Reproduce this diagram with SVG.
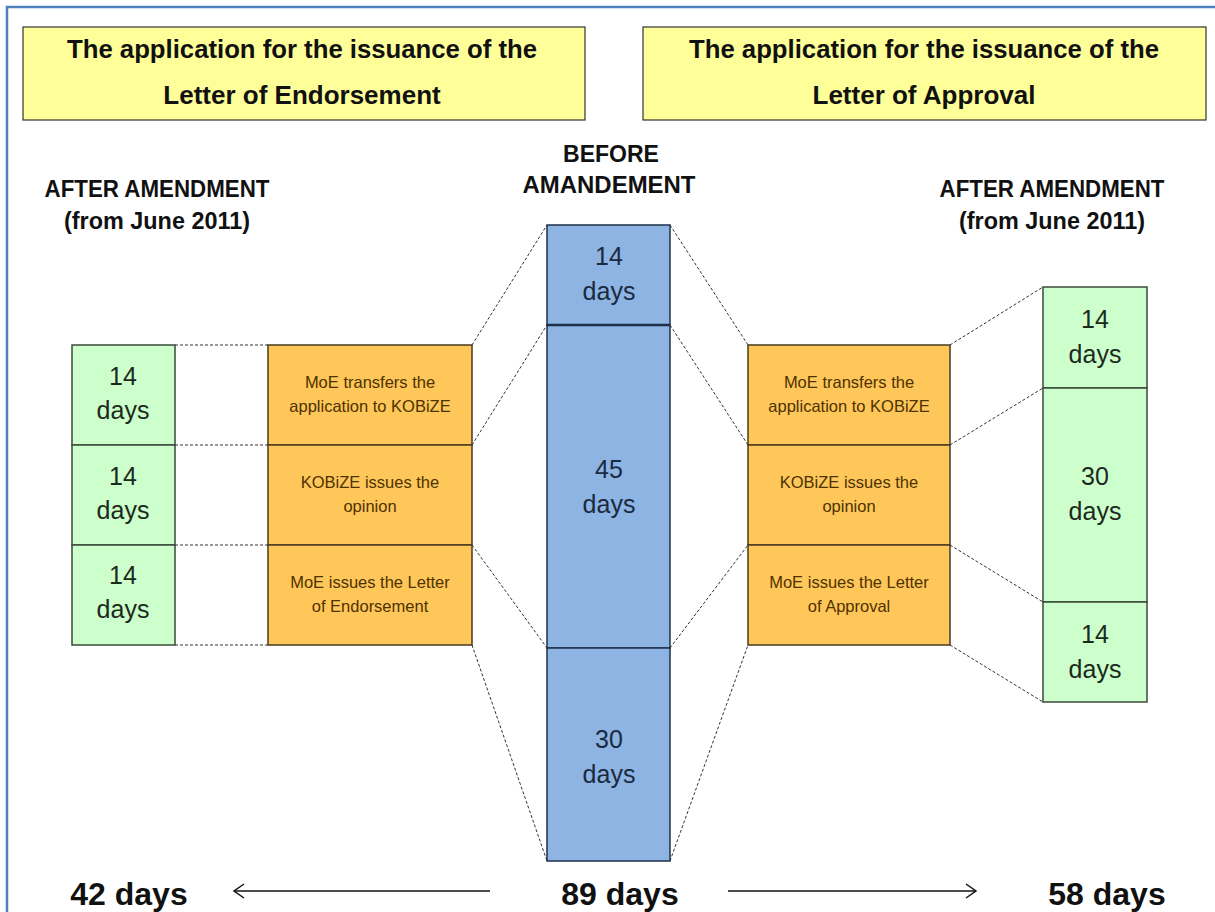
<svg xmlns="http://www.w3.org/2000/svg" width="1215" height="912" viewBox="0 0 1215 912">
<style>
text{font-family:"Liberation Sans",Arial,sans-serif;text-anchor:middle}
.title{font-size:26px;font-weight:bold;fill:#111}
.hdr{font-size:23px;font-weight:bold;fill:#111}
.yel{fill:#FFFF99;stroke:#333;stroke-width:1.2}
.grn{fill:#CCFFCC;stroke:#3a4a3a;stroke-width:1.5}
.org{fill:#FFC65A;stroke:#4a3a20;stroke-width:1.5}
.blu{fill:#8DB4E2;stroke:#1f2f4a;stroke-width:1.5}
.gt{font-size:25px;fill:#1c2a1c}
.bt{font-size:25px;fill:#1a2a40}
.ot{font-size:16.5px;fill:#4d3300}
.tot{font-size:32px;font-weight:bold;fill:#111}
.dash{stroke:#333;stroke-width:1;stroke-dasharray:3 2;fill:none}
.arr{stroke:#111;stroke-width:1.5;fill:none}
</style>
<rect x="7" y="7" width="1215" height="912" fill="#fff" stroke="#4F81BD" stroke-width="2.5"/>

<g id="title-left">
<rect class="yel" x="23" y="27" width="562" height="93"/>
<text class="title" x="302" y="58" textLength="470" lengthAdjust="spacingAndGlyphs">The application for the issuance of the</text>
<text class="title" x="302" y="104">Letter of Endorsement</text>
</g>
<g id="title-right">
<rect class="yel" x="643" y="27" width="563" height="93"/>
<text class="title" x="924" y="58" textLength="470" lengthAdjust="spacingAndGlyphs">The application for the issuance of the</text>
<text class="title" x="924" y="104">Letter of Approval</text>
</g>

<g id="label-left">
<text class="hdr" x="157" y="197" textLength="225" lengthAdjust="spacingAndGlyphs">AFTER AMENDMENT</text>
<text class="hdr" x="157" y="229" textLength="186" lengthAdjust="spacingAndGlyphs">(from June 2011)</text>
</g>
<g id="label-center">
<text class="hdr" x="611" y="162">BEFORE</text>
<text class="hdr" x="609" y="193" textLength="173" lengthAdjust="spacingAndGlyphs">AMANDEMENT</text>
</g>
<g id="label-right">
<text class="hdr" x="1052" y="197" textLength="225" lengthAdjust="spacingAndGlyphs">AFTER AMENDMENT</text>
<text class="hdr" x="1052" y="229" textLength="186" lengthAdjust="spacingAndGlyphs">(from June 2011)</text>
</g>

<g id="connectors">
<line class="dash" x1="175" y1="345" x2="268" y2="345"/>
<line class="dash" x1="175" y1="445" x2="268" y2="445"/>
<line class="dash" x1="175" y1="545" x2="268" y2="545"/>
<line class="dash" x1="175" y1="645" x2="268" y2="645"/>
<line class="dash" x1="472" y1="345" x2="547" y2="225"/>
<line class="dash" x1="472" y1="445" x2="547" y2="325"/>
<line class="dash" x1="472" y1="545" x2="547" y2="648"/>
<line class="dash" x1="472" y1="645" x2="547" y2="861"/>
<line class="dash" x1="670" y1="225" x2="748" y2="345"/>
<line class="dash" x1="670" y1="325" x2="748" y2="445"/>
<line class="dash" x1="670" y1="648" x2="748" y2="545"/>
<line class="dash" x1="670" y1="861" x2="748" y2="645"/>
<line class="dash" x1="950" y1="345" x2="1043" y2="287"/>
<line class="dash" x1="950" y1="445" x2="1043" y2="388"/>
<line class="dash" x1="950" y1="545" x2="1043" y2="602"/>
<line class="dash" x1="950" y1="645" x2="1043" y2="702"/>
<line class="arr" x1="490" y1="891" x2="234" y2="891"/>
<polyline class="arr" points="244,884 234,891 244,898"/>
<line class="arr" x1="728" y1="891" x2="976" y2="891"/>
<polyline class="arr" points="966,884 976,891 966,898"/>
</g>

<g id="left-green-1"><rect class="grn" x="72" y="345" width="103" height="100"/><text class="gt" x="123" y="385">14</text><text class="gt" x="123" y="419">days</text></g>
<g id="left-green-2"><rect class="grn" x="72" y="445" width="103" height="100"/><text class="gt" x="123" y="485">14</text><text class="gt" x="123" y="519">days</text></g>
<g id="left-green-3"><rect class="grn" x="72" y="545" width="103" height="100"/><text class="gt" x="123" y="584">14</text><text class="gt" x="123" y="618">days</text></g>

<g id="left-orange-1"><rect class="org" x="268" y="345" width="204" height="100"/><text class="ot" x="370" y="388">MoE  transfers the</text><text class="ot" x="370" y="412">application to KOBiZE</text></g>
<g id="left-orange-2"><rect class="org" x="268" y="445" width="204" height="100"/><text class="ot" x="370" y="488">KOBiZE issues the</text><text class="ot" x="370" y="512">opinion</text></g>
<g id="left-orange-3"><rect class="org" x="268" y="545" width="204" height="100"/><text class="ot" x="370" y="588">MoE issues the Letter</text><text class="ot" x="370" y="612">of Endorsement</text></g>

<g id="blue-1"><rect class="blu" x="547" y="225" width="123" height="100"/><text class="bt" x="609" y="265">14</text><text class="bt" x="609" y="300">days</text></g>
<g id="blue-2"><rect class="blu" x="547" y="325" width="123" height="323"/><text class="bt" x="609" y="478">45</text><text class="bt" x="609" y="513">days</text></g>
<g id="blue-3"><rect class="blu" x="547" y="648" width="123" height="213"/><text class="bt" x="609" y="748">30</text><text class="bt" x="609" y="783">days</text></g>
<line x1="547" y1="325" x2="670" y2="325" stroke="#1f2f4a" stroke-width="2.5"/>

<g id="right-orange-1"><rect class="org" x="748" y="345" width="202" height="100"/><text class="ot" x="849" y="388">MoE  transfers the</text><text class="ot" x="849" y="412">application to KOBiZE</text></g>
<g id="right-orange-2"><rect class="org" x="748" y="445" width="202" height="100"/><text class="ot" x="849" y="488">KOBiZE issues the</text><text class="ot" x="849" y="512">opinion</text></g>
<g id="right-orange-3"><rect class="org" x="748" y="545" width="202" height="100"/><text class="ot" x="849" y="588">MoE issues the Letter</text><text class="ot" x="849" y="612">of Approval</text></g>

<g id="right-green-1"><rect class="grn" x="1043" y="287" width="104" height="101"/><text class="gt" x="1095" y="328">14</text><text class="gt" x="1095" y="363">days</text></g>
<g id="right-green-2"><rect class="grn" x="1043" y="388" width="104" height="214"/><text class="gt" x="1095" y="485">30</text><text class="gt" x="1095" y="520">days</text></g>
<g id="right-green-3"><rect class="grn" x="1043" y="602" width="104" height="100"/><text class="gt" x="1095" y="643">14</text><text class="gt" x="1095" y="678">days</text></g>

<g id="totals">
<text class="tot" x="129" y="905">42 days</text>
<text class="tot" x="620" y="905">89 days</text>
<text class="tot" x="1107" y="905">58 days</text>
</g>
</svg>
